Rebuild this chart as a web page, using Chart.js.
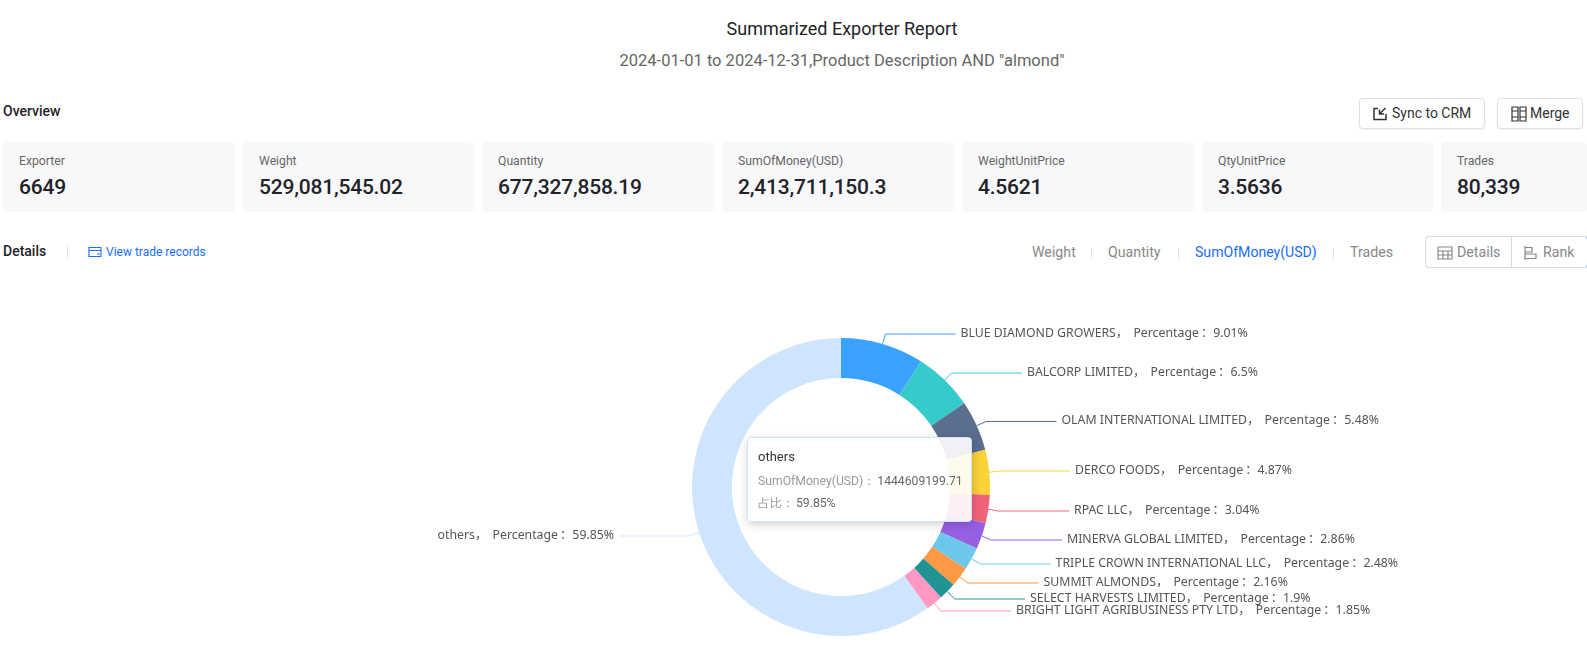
<!DOCTYPE html>
<html><head><meta charset="utf-8">
<script src="https://cdn.jsdelivr.net/npm/chart.js@4"></script>
<style>
html,body{margin:0;padding:0;background:#fff;overflow:hidden}
body{width:1587px;height:665px;position:relative;font-family:Roboto,sans-serif;color:#1f2329}
.t{position:absolute;white-space:nowrap;line-height:1}
.card{position:absolute;top:142px;height:70px;background:#f8f8fa;border-radius:4px}
.card .l{position:absolute;left:16px;top:12px;font-size:12.2px;color:#666;line-height:14px;white-space:nowrap}
.card .v{position:absolute;left:16px;top:33px;font-size:21px;font-weight:500;color:#1f2329;letter-spacing:-.2px;line-height:24px;white-space:nowrap}
.btn{position:absolute;top:98px;height:31px;border:1px solid #dcdfe6;border-radius:4px;box-sizing:border-box;background:#fff;box-shadow:0 1px 1px rgba(0,0,0,.05);font-size:14px;line-height:29px;color:#333;white-space:nowrap}
.btn svg{position:absolute;top:7px}
.sep{position:absolute;width:1px;background:#e2e4e8}
canvas{position:absolute;left:0;top:0}
#tip{position:absolute;left:747px;top:437px;width:225px;height:85px;box-sizing:border-box;background:rgba(255,255,255,.9);border:1px solid #cfe5fd;border-radius:4px;box-shadow:1px 2px 10px rgba(0,0,0,.2)}
#tip div{position:absolute;left:10px;white-space:nowrap;line-height:16px}
</style></head><body>
<div class="t" style="left:0;width:1684px;text-align:center;top:20px;font-size:18px;color:#1f2329">Summarized Exporter Report</div>
<div class="t" style="left:0;width:1684px;text-align:center;top:53px;font-size:16.5px;color:#666">2024-01-01 to 2024-12-31,Product Description AND "almond"</div>
<div class="t" style="left:3px;top:104px;font-size:14px;font-weight:500">Overview</div>
<div class="btn" style="left:1359px;width:126px"><svg style="left:12px" width="16" height="16" viewBox="0 0 16 16" fill="none" stroke="#333" stroke-width="1.5"><path d="M6 2.5H2v11h12V8M13.5 2L8 7.5M7.5 3.5v4.5h4.5"/></svg><span style="position:absolute;left:32px">Sync to CRM</span></div>
<div class="btn" style="left:1497px;width:86px"><svg style="left:13px" width="16" height="16" viewBox="0 0 16 16" fill="none" stroke="#333" stroke-width="1.2"><path d="M1 1h6v14H1zM9 1h6v14H9zM1 5h6M9 5h6M1 11h6M9 11h6"/></svg><span style="position:absolute;left:32px">Merge</span></div>
<div id="cards"></div>
<div class="t" style="left:3px;top:244px;font-size:14px;font-weight:500">Details</div>
<div class="sep" style="left:67px;top:245px;height:14px"></div>
<svg style="position:absolute;left:88px;top:245px" width="14" height="14" viewBox="0 0 14 14" fill="none" stroke="#1a6dff" stroke-width="1.1"><path d="M1 2.5h12v9H1zM1 5.5h12M9 9h3"/></svg>
<div class="t" style="left:106px;top:246px;font-size:12px;color:#1a6dff">View trade records</div>
<div class="t" style="left:1032px;top:245px;font-size:14.2px;color:#888">Weight</div>
<div class="sep" style="left:1091px;top:248px;height:11px"></div>
<div class="t" style="left:1108px;top:245px;font-size:14.2px;color:#888">Quantity</div>
<div class="sep" style="left:1178px;top:248px;height:11px"></div>
<div class="t" style="left:1195px;top:245px;font-size:14.1px;color:#1a6dff">SumOfMoney(USD)</div>
<div class="sep" style="left:1333px;top:248px;height:11px"></div>
<div class="t" style="left:1350px;top:245px;font-size:14.2px;color:#888">Trades</div>
<div style="position:absolute;left:1425px;top:236px;width:163px;height:32px;box-sizing:border-box;border:1px solid #d8dbe0;border-right:1px solid #1a6dff;border-radius:4px"></div>
<div class="sep" style="left:1511px;top:236px;height:32px;background:#d8dbe0"></div>
<svg style="position:absolute;left:1437px;top:245px" width="16" height="16" viewBox="0 0 16 16" fill="none" stroke="#888" stroke-width="1.2"><path d="M1 2h14v12H1zM1 6h14M1 10h14M6 6v8M11 6v8"/></svg>
<div class="t" style="left:1457px;top:245px;font-size:14.2px;color:#888">Details</div>
<svg style="position:absolute;left:1523px;top:245px" width="15" height="16" viewBox="0 0 15 16" fill="none" stroke="#888" stroke-width="1.2"><path d="M2 1v14M2 2.5h7v4.5H2M2 9h11v4.5H2"/></svg>
<div class="t" style="left:1543px;top:245px;font-size:14.2px;color:#888">Rank</div>
<canvas id="c" width="1587" height="665" style="width:1587px;height:665px"></canvas>
<div id="tip">
<div style="top:11px;font-size:13px;color:#333" id="tipName"></div>
<div style="top:35px;font-size:12.2px;color:#999"><span id="tipSeries"></span><span style="color:#666;margin-left:2px" id="tipValue"></span></div>
<div style="top:57px;font-size:12.2px;color:#999"><span id="tipShare"></span><span style="color:#666;margin-left:2px" id="tipPct"></span></div>
</div>
<script>
const exporters=["BLUE DIAMOND GROWERS","BALCORP LIMITED","OLAM INTERNATIONAL LIMITED","DERCO FOODS","RPAC LLC","MINERVA GLOBAL LIMITED","TRIPLE CROWN INTERNATIONAL LLC","SUMMIT ALMONDS","SELECT HARVESTS LIMITED","BRIGHT LIGHT AGRIBUSINESS PTY LTD","others"];
const percentages=[9.01,6.5,5.48,4.87,3.04,2.86,2.48,2.16,1.9,1.85,59.85];
const colors=["#3aa1ff","#36cbcb","#5b6e8f","#fad337","#f2637b","#975fe4","#6cc7ea","#ff9944","#209492","#ff99c3","#cfe5fd"];
const cardLabels=["Exporter","Weight","Quantity","SumOfMoney(USD)","WeightUnitPrice","QtyUnitPrice","Trades"];
const cardValues=["6649","529,081,545.02","677,327,858.19","2,413,711,150.3","4.5621","3.5636","80,339"];
const tooltipValue="1444609199.71";

const cardBoxes=[[3,232],[243,231],[482,232],[722,232],[962,232],[1202,231],[1441,146]];
const cardsEl=document.getElementById('cards');
cardLabels.forEach((l,i)=>{
  const d=document.createElement('div');d.className='card';
  d.style.left=cardBoxes[i][0]+'px';d.style.width=cardBoxes[i][1]+'px';
  const a=document.createElement('div');a.className='l';a.textContent=l;
  const b=document.createElement('div');b.className='v';b.textContent=cardValues[i];
  d.append(a,b);cardsEl.append(d);
});
document.getElementById('tipName').textContent=exporters[10];
document.getElementById('tipSeries').textContent=cardLabels[3]+'：';
document.getElementById('tipValue').textContent=tooltipValue;
document.getElementById('tipShare').textContent='占比：';
document.getElementById('tipPct').textContent=percentages[10]+'%';

// where each callout label sits on the page (text edge x, centre y)
const labelX=[960.5,1027,1061.5,1075,1074,1067,1055.6,1043.5,1030,1016,614];
const labelY=[334,373,421.5,471,511,540,564,583,599,611,536];

const callouts={id:'callouts',afterDatasetsDraw(chart){
  const ctx=chart.ctx,arcs=chart.getDatasetMeta(0).data;
  ctx.save();
  ctx.font='12.3px "Noto Sans","Noto Sans CJK SC",sans-serif';ctx.textBaseline='middle';
  arcs.forEach((arc,i)=>{
    const p=arc.getProps(['x','y','startAngle','endAngle','outerRadius']);
    const m=(p.startAngle+p.endAngle)/2,dx=Math.cos(m),dy=Math.sin(m);
    const right=dx>=0, ex=labelX[i]+(right?-5:5);
    ctx.beginPath();ctx.strokeStyle=colors[i];ctx.lineWidth=1;
    ctx.moveTo(p.x+p.outerRadius*dx,p.y+p.outerRadius*dy);
    ctx.lineTo(p.x+(p.outerRadius+10)*dx,labelY[i]);
    ctx.lineTo(ex,labelY[i]);ctx.stroke();
    ctx.fillStyle='#555';ctx.textAlign=right?'left':'right';
    ctx.fillText(exporters[i]+'， \u2009Percentage\u2009：'+percentages[i]+'%',labelX[i],labelY[i]-.6);
  });
  ctx.restore();
}};

new Chart(document.getElementById('c'),{
  type:'doughnut',
  data:{labels:exporters,datasets:[{data:percentages,backgroundColor:colors,borderWidth:0,hoverOffset:0}]},
  options:{responsive:false,animation:false,cutout:'73.2%',
    layout:{padding:{left:692,right:597,top:338,bottom:29}},
    events:[],
    plugins:{legend:{display:false},tooltip:{enabled:false}}},
  plugins:[callouts]
});
</script>
</body></html>
